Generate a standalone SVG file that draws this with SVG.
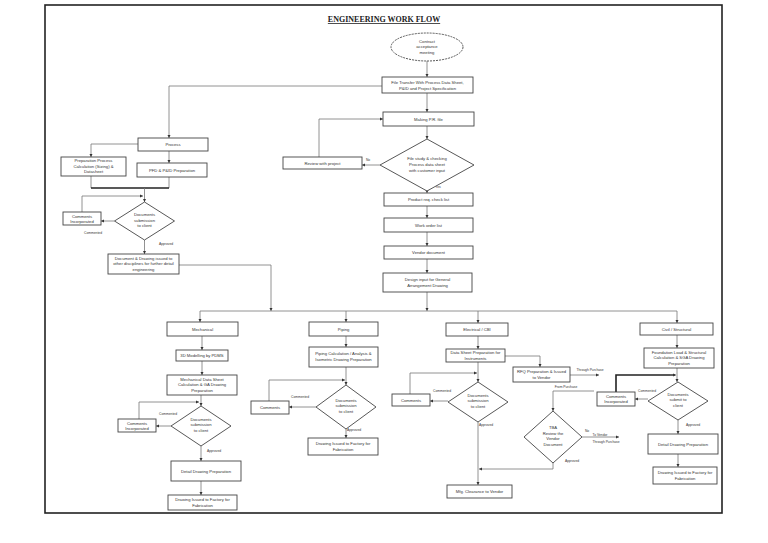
<svg xmlns="http://www.w3.org/2000/svg" width="768" height="543" viewBox="0 0 768 543">
<style>
.b{fill:#fff;stroke:#444;stroke-width:0.9}
.d{fill:#fff;stroke:#444;stroke-width:0.9}
.t{font-family:"Liberation Sans",Arial,sans-serif;font-size:4.2px;fill:#333;text-anchor:middle}
.s{font-family:"Liberation Sans",Arial,sans-serif;font-size:3.3px;fill:#333;text-anchor:middle}
.c path{fill:none;stroke:#777;stroke-width:0.8}
.c path.k{stroke:#222;stroke-width:1.6}
</style>
<defs>
<marker id="a" viewBox="0 0 6 6" refX="6" refY="3" markerWidth="3.2" markerHeight="3.2" markerUnits="userSpaceOnUse" orient="auto"><path d="M0,0 L6,3 L0,6z" fill="#333"/></marker>
</defs>
<rect width="768" height="543" fill="#fff"/>
<rect x="45" y="5" width="677" height="508" fill="none" stroke="#222" stroke-width="1.6"/>
<text x="384" y="22" font-family="Liberation Serif,serif" font-weight="bold" font-size="8" text-anchor="middle" text-decoration="underline" fill="#222">ENGINEERING WORK FLOW</text>

<g class="c" id="connectors">
<path d="M427,61V77" marker-end="url(#a)"/>
<path d="M427,93V112" marker-end="url(#a)"/>
<path d="M427,126V139" marker-end="url(#a)"/>
<path d="M427,191V193" marker-end="url(#a)"/>
<path d="M427,206V218" marker-end="url(#a)"/>
<path d="M427,232V246" marker-end="url(#a)"/>
<path d="M427,259V273" marker-end="url(#a)"/>
<path d="M427,292V311" marker-end="url(#a)"/>
<path d="M380,165H362" marker-end="url(#a)"/>
<path d="M319,157V119H383" marker-end="url(#a)"/>
<path d="M382,86H169V138" marker-end="url(#a)"/>
<path d="M138,144H91V157" marker-end="url(#a)"/>
<path d="M169,151V163" marker-end="url(#a)"/>
<path d="M91,176V188M169,177V188"/>
<path class="k" d="M91,188H169"/>
<path d="M144.5,188V202" marker-end="url(#a)"/>
<path d="M82,212V196H143" marker-end="url(#a)"/>
<path d="M114.5,221H101" marker-end="url(#a)"/>
<path d="M144.5,240V254" marker-end="url(#a)"/>
<path d="M179,265H271V311" marker-end="url(#a)"/>
<path d="M200,311H677"/>
<path d="M200,311V322" marker-end="url(#a)"/>
<path d="M346,311V322" marker-end="url(#a)"/>
<path d="M478,311V323" marker-end="url(#a)"/>
<path d="M677,311V323" marker-end="url(#a)"/>
<path d="M202,336V350" marker-end="url(#a)"/>
<path d="M202,361V375" marker-end="url(#a)"/>
<path d="M201,395V406" marker-end="url(#a)"/>
<path d="M139,419V402H199" marker-end="url(#a)"/>
<path d="M171,426H156" marker-end="url(#a)"/>
<path d="M201,446V461" marker-end="url(#a)"/>
<path d="M201,481V495" marker-end="url(#a)"/>
<path d="M346,336V347" marker-end="url(#a)"/>
<path d="M346,367V385" marker-end="url(#a)"/>
<path d="M269,401V380H345" marker-end="url(#a)"/>
<path d="M316,407H289" marker-end="url(#a)"/>
<path d="M346,429V438" marker-end="url(#a)"/>
<path d="M478,336V349" marker-end="url(#a)"/>
<path d="M505,356H540V367" marker-end="url(#a)"/>
<path d="M570,375H599" marker-end="url(#a)"/>
<path d="M478,362V382" marker-end="url(#a)"/>
<path d="M410,394V373H477" marker-end="url(#a)"/>
<path d="M448,401H430" marker-end="url(#a)"/>
<path d="M478,422V485" marker-end="url(#a)"/>
<path d="M553,463V469H479" marker-end="url(#a)"/>
<path d="M594,391H553V411" marker-end="url(#a)"/>
<path d="M582,437H619" marker-end="url(#a)"/>
<path d="M677,335V348" marker-end="url(#a)"/>
<path d="M677,368V382" marker-end="url(#a)"/>
<path class="k" d="M616,392V375H675"/>
<path d="M670,375H676" marker-end="url(#a)"/>
<path d="M648,399H635" marker-end="url(#a)"/>
<path d="M678,420V434" marker-end="url(#a)"/>
<path d="M678,454V467" marker-end="url(#a)"/>
<text class="s" x="368" y="161">No</text>
<text class="s" x="438" y="188">Yes</text>
<text class="s" x="93" y="234">Commented</text>
<text class="s" x="166" y="245">Approved</text>
<text class="s" x="168" y="415">Commented</text>
<text class="s" x="214" y="452">Approved</text>
<text class="s" x="300" y="398">Commented</text>
<text class="s" x="354" y="431">Approved</text>
<text class="s" x="442" y="392">Commented</text>
<text class="s" x="486" y="426">Approved</text>
<text class="s" x="590" y="371">Through Purchase</text>
<text class="s" x="566" y="388">From Purchase</text>
<text class="s" x="587" y="432">No</text>
<text class="s" x="600" y="435.5">To Vendor</text>
<text class="s" x="606" y="443">Through Purchase</text>
<text class="s" x="572" y="462">Approved</text>
<text class="s" x="647" y="392">Commented</text>
<text class="s" x="693" y="426">Approved</text>
</g>

<g id="contract"><ellipse cx="427" cy="47" rx="36" ry="14" fill="#fff" stroke="#444" stroke-width="0.9" stroke-dasharray="2,1"/><text class="t" x="427" y="42.5">Contract</text><text class="t" x="427" y="48">acceptance</text><text class="t" x="427" y="53.5">meeting</text></g>
<g id="file-transfer"><rect class="b" x="382" y="77" width="91" height="16"/><text class="t" x="427.5" y="83.5">File Transfer With Process Data Sheet,</text><text class="t" x="427.5" y="89.5">P&amp;ID and Project Specification</text></g>
<g id="making-pr"><rect class="b" x="383" y="112" width="91" height="14"/><text class="t" x="428.5" y="120.5">Making P.R. file</text></g>
<g id="file-study"><polygon class="d" points="427,139 474,165 427,191 380,165"/><text class="t" x="427" y="159.5">File study &amp; checking</text><text class="t" x="427" y="165.5">Process data sheet</text><text class="t" x="427" y="171.5">with customer input</text></g>
<g id="review"><rect class="b" x="283" y="157" width="79" height="12"/><text class="t" x="322.5" y="164.5">Review with project</text></g>
<g id="product-req"><rect class="b" x="384" y="193" width="89" height="13"/><text class="t" x="428.5" y="201">Product req. check list</text></g>
<g id="work-order"><rect class="b" x="384" y="218" width="89" height="14"/><text class="t" x="428.5" y="226.5">Work order list</text></g>
<g id="vendor-doc"><rect class="b" x="384" y="246" width="89" height="13"/><text class="t" x="428.5" y="254">Vendor document</text></g>
<g id="design-input"><rect class="b" x="383" y="273" width="89" height="19"/><text class="t" x="427.5" y="281">Design input for General</text><text class="t" x="427.5" y="287">Arrangement Drawing</text></g>

<g id="process"><rect class="b" x="138" y="138" width="70" height="13"/><text class="t" x="173" y="146">Process</text></g>
<g id="prep-process"><rect class="b" x="61" y="157" width="65" height="19"/><text class="t" x="93.5" y="162">Preparation Process</text><text class="t" x="93.5" y="167.5">Calculation (Sizing) &amp;</text><text class="t" x="93.5" y="173">Datasheet</text></g>
<g id="pfd"><rect class="b" x="137" y="163" width="70" height="14"/><text class="t" x="172" y="171.5">PFD &amp; P&amp;ID Preparation</text></g>
<g id="proc-submit"><polygon class="d" points="144.5,202 174.5,221 144.5,240 114.5,221"/><text class="t" x="144.5" y="216">Documents</text><text class="t" x="144.5" y="221.5">submission</text><text class="t" x="144.5" y="227">to client</text></g>
<g id="proc-comments"><rect class="b" x="63" y="212" width="38" height="13"/><text class="t" x="82" y="217.5">Comments</text><text class="t" x="82" y="222.5">Incorporated</text></g>
<g id="doc-issued"><rect class="b" x="108" y="254" width="71" height="20"/><text class="t" x="143.5" y="259.5">Document &amp; Drawing issued to</text><text class="t" x="143.5" y="265">other disciplines for further detail</text><text class="t" x="143.5" y="270.5">engineering</text></g>

<g id="mechanical"><rect class="b" x="167" y="322" width="71" height="14"/><text class="t" x="202.5" y="330.5">Mechanical</text></g>
<g id="modelling"><rect class="b" x="176" y="350" width="52" height="11"/><text class="t" x="202" y="357">3D Modelling by PDMS</text></g>
<g id="mech-data"><rect class="b" x="167" y="375" width="70" height="20"/><text class="t" x="202" y="380.5">Mechanical Data Sheet</text><text class="t" x="202" y="386">Calculation &amp; GA Drawing</text><text class="t" x="202" y="391.5">Preparation</text></g>
<g id="mech-submit"><polygon class="d" points="201,406 231,426 201,446 171,426"/><text class="t" x="201" y="420.5">Documents</text><text class="t" x="201" y="426">submission</text><text class="t" x="201" y="431.5">to client</text></g>
<g id="mech-comments"><rect class="b" x="118" y="419" width="38" height="13"/><text class="t" x="137" y="424.5">Comments</text><text class="t" x="137" y="429.5">Incorporated</text></g>
<g id="mech-detail"><rect class="b" x="171" y="461" width="70" height="20"/><text class="t" x="206" y="472.5">Detail Drawing Preparation</text></g>
<g id="mech-issued"><rect class="b" x="168" y="495" width="69" height="15"/><text class="t" x="202.5" y="501">Drawing Issued to Factory for</text><text class="t" x="202.5" y="506.5">Fabrication</text></g>

<g id="piping"><rect class="b" x="309" y="322" width="69" height="14"/><text class="t" x="343.5" y="330.5">Piping</text></g>
<g id="piping-calc"><rect class="b" x="309" y="347" width="69" height="20"/><text class="t" x="343.5" y="355">Piping Calculation / Analysis &amp;</text><text class="t" x="343.5" y="361">Isometric Drawing Preparation</text></g>
<g id="pipe-submit"><polygon class="d" points="346,385 376,407 346,429 316,407"/><text class="t" x="346" y="401.5">Documents</text><text class="t" x="346" y="407">submission</text><text class="t" x="346" y="412.5">to client</text></g>
<g id="pipe-comments"><rect class="b" x="251" y="401" width="38" height="13"/><text class="t" x="270" y="408.5">Comments</text></g>
<g id="pipe-issued"><rect class="b" x="308" y="438" width="70" height="17"/><text class="t" x="343" y="445">Drawing Issued to Factory for</text><text class="t" x="343" y="450.5">Fabrication</text></g>

<g id="electrical"><rect class="b" x="446" y="323" width="62" height="13"/><text class="t" x="477" y="331">Electrical / CBI</text></g>
<g id="data-sheet"><rect class="b" x="446" y="349" width="59" height="13"/><text class="t" x="475.5" y="354">Data Sheet Preparation for</text><text class="t" x="475.5" y="359.5">Instruments</text></g>
<g id="rfq"><rect class="b" x="513" y="367" width="57" height="15"/><text class="t" x="541.5" y="373">RFQ Preparation &amp; Issued</text><text class="t" x="541.5" y="378.5">to Vendor</text></g>
<g id="elec-submit"><polygon class="d" points="478,382 508,402 478,422 448,402"/><text class="t" x="478" y="396.5">Documents</text><text class="t" x="478" y="402">submission</text><text class="t" x="478" y="407.5">to client</text></g>
<g id="elec-comments"><rect class="b" x="392" y="394" width="38" height="12"/><text class="t" x="411" y="401.5">Comments</text></g>
<g id="tba"><polygon class="d" points="553,411 582,437 553,463 524,437"/><text class="t" x="553" y="429">TBA</text><text class="t" x="553" y="434.5">Review the</text><text class="t" x="553" y="440">Vendor</text><text class="t" x="553" y="445.5">Document</text></g>
<g id="mfg"><rect class="b" x="447" y="485" width="65" height="13"/><text class="t" x="479.5" y="493">Mfg. Clearance to Vendor</text></g>

<g id="civil"><rect class="b" x="640" y="323" width="73" height="12"/><text class="t" x="676.5" y="330.5">Civil / Structural</text></g>
<g id="foundation"><rect class="b" x="644" y="348" width="70" height="20"/><text class="t" x="679" y="353.5">Foundation Load &amp; Structural</text><text class="t" x="679" y="359">Calculation &amp; SGA Drawing</text><text class="t" x="679" y="364.5">Preparation</text></g>
<g id="civil-submit"><polygon class="d" points="678,382 708,401 678,420 648,401"/><text class="t" x="678" y="395.5">Documents</text><text class="t" x="678" y="401">submit to</text><text class="t" x="678" y="406.5">client</text></g>
<g id="civil-comments"><rect class="b" x="597" y="392" width="38" height="14"/><text class="t" x="616" y="398">Comments</text><text class="t" x="616" y="403">Incorporated</text></g>
<g id="civil-detail"><rect class="b" x="648" y="434" width="70" height="20"/><text class="t" x="683" y="445.5">Detail Drawing Preparation</text></g>
<g id="civil-issued"><rect class="b" x="653" y="467" width="64" height="17"/><text class="t" x="685" y="474">Drawing Issued to Factory for</text><text class="t" x="685" y="479.5">Fabrication</text></g>
</svg>
